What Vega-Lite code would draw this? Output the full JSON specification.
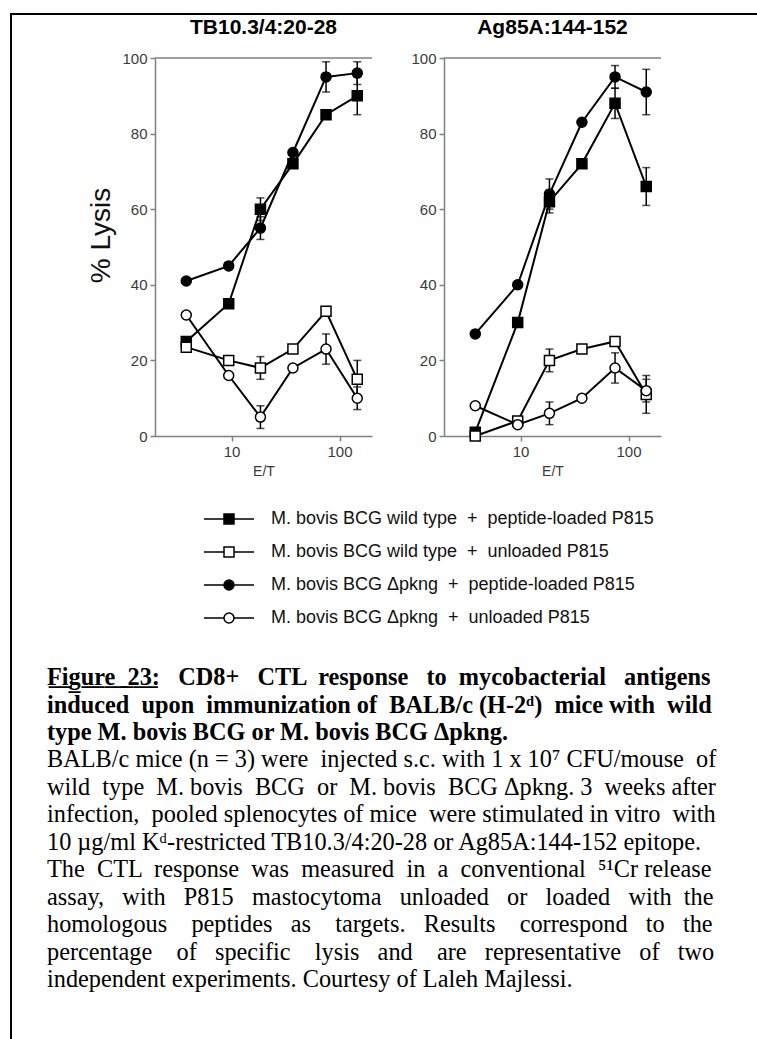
{
  "$schema": "https://vega.github.io/schema/vega-lite/v6.json",
  "width": 748,
  "height": 1027,
  "autosize": {"type": "none"},
  "padding": {"left": 11, "top": 14, "right": -2, "bottom": -2},
  "background": "white",
  "config": {
    "view": {"stroke": "black", "strokeWidth": 2},
    "font": "Liberation Sans",
    "axis": {
      "domainColor": "#808080", "domainWidth": 1.5,
      "tickColor": "#808080", "tickWidth": 1.5, "tickSize": 5,
      "labelFont": "Liberation Sans", "labelFontSize": 15, "labelColor": "#3a3a3a", "labelPadding": 3,
      "grid": false,
      "titleFont": "Liberation Sans", "titleFontWeight": "normal", "titleColor": "#3a3a3a"
    }
  },
  "title": {
    "text": [
      "F\u0332i\u0332g\u0332u\u0332r\u0332e\u0332 \u0332\u00a0\u03322\u03323\u0332: \u00a0\u00a0CD8+ \u00a0\u00a0CTL \u00a0response \u00a0\u00a0to \u00a0mycobacterial \u00a0\u00a0antigens",
      "induced \u00a0upon \u00a0immunization of \u00a0BALB/c (H-2\u1d48) \u00a0mice with \u00a0wild",
      "type M. bovis BCG or M. bovis BCG \u0394pkng."
    ],
    "subtitle": [
      "BALB/c mice (n = 3) were \u00a0injected s.c. with 1 x 10\u2077 CFU/mouse \u00a0of",
      "wild \u00a0type \u00a0M. bovis \u00a0BCG \u00a0or \u00a0M. bovis \u00a0BCG \u0394pkng. 3 \u00a0weeks after",
      "infection, \u00a0pooled splenocytes of mice \u00a0were stimulated in vitro \u00a0with",
      "10 \u00b5g/ml K\u1d48-restricted TB10.3/4:20-28 or Ag85A:144-152 epitope.",
      "The \u00a0CTL \u00a0response \u00a0was \u00a0measured \u00a0in \u00a0a \u00a0conventional \u00a0\u2075\u00b9Cr release",
      "assay, \u00a0\u00a0with \u00a0\u00a0P815 \u00a0\u00a0mastocytoma \u00a0\u00a0unloaded \u00a0\u00a0or \u00a0\u00a0loaded \u00a0\u00a0with \u00a0the",
      "homologous \u00a0\u00a0\u00a0peptides \u00a0\u00a0as \u00a0\u00a0\u00a0targets. \u00a0\u00a0Results \u00a0\u00a0\u00a0correspond \u00a0\u00a0to \u00a0\u00a0the",
      "percentage \u00a0\u00a0\u00a0of \u00a0\u00a0specific \u00a0\u00a0\u00a0lysis \u00a0\u00a0and \u00a0\u00a0\u00a0are \u00a0\u00a0representative \u00a0\u00a0of \u00a0\u00a0two",
      "independent experiments. Courtesy of Laleh Majlessi."
    ],
    "orient": "bottom", "anchor": "start", "frame": "group",
    "offset": -375, "dx": 36, "limit": 2000,
    "font": "Liberation Serif", "fontSize": 24.3, "fontWeight": "bold", "color": "black", "lineHeight": 27.5,
    "subtitleFont": "Liberation Serif", "subtitleFontSize": 24.3, "subtitleFontWeight": "normal",
    "subtitleColor": "black", "subtitleLineHeight": 27.5, "subtitlePadding": 3
  },
  "datasets": {
    "lysis": [
      {"panel": "TB10.3/4:20-28", "series": "M. bovis BCG wild type \u00a0+\u00a0 peptide-loaded P815", "et": 3.8, "lysis": 25},
      {"panel": "TB10.3/4:20-28", "series": "M. bovis BCG wild type \u00a0+\u00a0 peptide-loaded P815", "et": 9.4, "lysis": 35},
      {"panel": "TB10.3/4:20-28", "series": "M. bovis BCG wild type \u00a0+\u00a0 peptide-loaded P815", "et": 18.5, "lysis": 60, "lo": 57, "hi": 63},
      {"panel": "TB10.3/4:20-28", "series": "M. bovis BCG wild type \u00a0+\u00a0 peptide-loaded P815", "et": 37, "lysis": 72},
      {"panel": "TB10.3/4:20-28", "series": "M. bovis BCG wild type \u00a0+\u00a0 peptide-loaded P815", "et": 75, "lysis": 85},
      {"panel": "TB10.3/4:20-28", "series": "M. bovis BCG wild type \u00a0+\u00a0 peptide-loaded P815", "et": 146, "lysis": 90, "lo": 85, "hi": 95},
      {"panel": "TB10.3/4:20-28", "series": "M. bovis BCG wild type \u00a0+\u00a0 unloaded P815", "et": 3.8, "lysis": 23.5},
      {"panel": "TB10.3/4:20-28", "series": "M. bovis BCG wild type \u00a0+\u00a0 unloaded P815", "et": 9.4, "lysis": 20},
      {"panel": "TB10.3/4:20-28", "series": "M. bovis BCG wild type \u00a0+\u00a0 unloaded P815", "et": 18.5, "lysis": 18, "lo": 15, "hi": 21},
      {"panel": "TB10.3/4:20-28", "series": "M. bovis BCG wild type \u00a0+\u00a0 unloaded P815", "et": 37, "lysis": 23},
      {"panel": "TB10.3/4:20-28", "series": "M. bovis BCG wild type \u00a0+\u00a0 unloaded P815", "et": 75, "lysis": 33},
      {"panel": "TB10.3/4:20-28", "series": "M. bovis BCG wild type \u00a0+\u00a0 unloaded P815", "et": 146, "lysis": 15, "lo": 10, "hi": 20},
      {"panel": "TB10.3/4:20-28", "series": "M. bovis BCG \u0394pkng \u00a0+\u00a0 peptide-loaded P815", "et": 3.8, "lysis": 41},
      {"panel": "TB10.3/4:20-28", "series": "M. bovis BCG \u0394pkng \u00a0+\u00a0 peptide-loaded P815", "et": 9.4, "lysis": 45},
      {"panel": "TB10.3/4:20-28", "series": "M. bovis BCG \u0394pkng \u00a0+\u00a0 peptide-loaded P815", "et": 18.5, "lysis": 55, "lo": 52, "hi": 58},
      {"panel": "TB10.3/4:20-28", "series": "M. bovis BCG \u0394pkng \u00a0+\u00a0 peptide-loaded P815", "et": 37, "lysis": 75},
      {"panel": "TB10.3/4:20-28", "series": "M. bovis BCG \u0394pkng \u00a0+\u00a0 peptide-loaded P815", "et": 75, "lysis": 95, "lo": 91, "hi": 99},
      {"panel": "TB10.3/4:20-28", "series": "M. bovis BCG \u0394pkng \u00a0+\u00a0 peptide-loaded P815", "et": 146, "lysis": 96, "lo": 93, "hi": 99},
      {"panel": "TB10.3/4:20-28", "series": "M. bovis BCG \u0394pkng \u00a0+\u00a0 unloaded P815", "et": 3.8, "lysis": 32},
      {"panel": "TB10.3/4:20-28", "series": "M. bovis BCG \u0394pkng \u00a0+\u00a0 unloaded P815", "et": 9.4, "lysis": 16},
      {"panel": "TB10.3/4:20-28", "series": "M. bovis BCG \u0394pkng \u00a0+\u00a0 unloaded P815", "et": 18.5, "lysis": 5, "lo": 2, "hi": 8},
      {"panel": "TB10.3/4:20-28", "series": "M. bovis BCG \u0394pkng \u00a0+\u00a0 unloaded P815", "et": 37, "lysis": 18},
      {"panel": "TB10.3/4:20-28", "series": "M. bovis BCG \u0394pkng \u00a0+\u00a0 unloaded P815", "et": 75, "lysis": 23, "lo": 19, "hi": 27},
      {"panel": "TB10.3/4:20-28", "series": "M. bovis BCG \u0394pkng \u00a0+\u00a0 unloaded P815", "et": 146, "lysis": 10, "lo": 7, "hi": 13},
      {"panel": "Ag85A:144-152", "series": "M. bovis BCG wild type \u00a0+\u00a0 peptide-loaded P815", "et": 3.8, "lysis": 1},
      {"panel": "Ag85A:144-152", "series": "M. bovis BCG wild type \u00a0+\u00a0 peptide-loaded P815", "et": 9.4, "lysis": 30},
      {"panel": "Ag85A:144-152", "series": "M. bovis BCG wild type \u00a0+\u00a0 peptide-loaded P815", "et": 18.5, "lysis": 62, "lo": 59, "hi": 65},
      {"panel": "Ag85A:144-152", "series": "M. bovis BCG wild type \u00a0+\u00a0 peptide-loaded P815", "et": 37, "lysis": 72},
      {"panel": "Ag85A:144-152", "series": "M. bovis BCG wild type \u00a0+\u00a0 peptide-loaded P815", "et": 75, "lysis": 88, "lo": 84, "hi": 92},
      {"panel": "Ag85A:144-152", "series": "M. bovis BCG wild type \u00a0+\u00a0 peptide-loaded P815", "et": 146, "lysis": 66, "lo": 61, "hi": 71},
      {"panel": "Ag85A:144-152", "series": "M. bovis BCG wild type \u00a0+\u00a0 unloaded P815", "et": 3.8, "lysis": 0},
      {"panel": "Ag85A:144-152", "series": "M. bovis BCG wild type \u00a0+\u00a0 unloaded P815", "et": 9.4, "lysis": 4},
      {"panel": "Ag85A:144-152", "series": "M. bovis BCG wild type \u00a0+\u00a0 unloaded P815", "et": 18.5, "lysis": 20, "lo": 17, "hi": 23},
      {"panel": "Ag85A:144-152", "series": "M. bovis BCG wild type \u00a0+\u00a0 unloaded P815", "et": 37, "lysis": 23},
      {"panel": "Ag85A:144-152", "series": "M. bovis BCG wild type \u00a0+\u00a0 unloaded P815", "et": 75, "lysis": 25},
      {"panel": "Ag85A:144-152", "series": "M. bovis BCG wild type \u00a0+\u00a0 unloaded P815", "et": 146, "lysis": 11, "lo": 6, "hi": 16},
      {"panel": "Ag85A:144-152", "series": "M. bovis BCG \u0394pkng \u00a0+\u00a0 peptide-loaded P815", "et": 3.8, "lysis": 27},
      {"panel": "Ag85A:144-152", "series": "M. bovis BCG \u0394pkng \u00a0+\u00a0 peptide-loaded P815", "et": 9.4, "lysis": 40},
      {"panel": "Ag85A:144-152", "series": "M. bovis BCG \u0394pkng \u00a0+\u00a0 peptide-loaded P815", "et": 18.5, "lysis": 64, "lo": 60, "hi": 68},
      {"panel": "Ag85A:144-152", "series": "M. bovis BCG \u0394pkng \u00a0+\u00a0 peptide-loaded P815", "et": 37, "lysis": 83},
      {"panel": "Ag85A:144-152", "series": "M. bovis BCG \u0394pkng \u00a0+\u00a0 peptide-loaded P815", "et": 75, "lysis": 95, "lo": 92, "hi": 98},
      {"panel": "Ag85A:144-152", "series": "M. bovis BCG \u0394pkng \u00a0+\u00a0 peptide-loaded P815", "et": 146, "lysis": 91, "lo": 85, "hi": 97},
      {"panel": "Ag85A:144-152", "series": "M. bovis BCG \u0394pkng \u00a0+\u00a0 unloaded P815", "et": 3.8, "lysis": 8},
      {"panel": "Ag85A:144-152", "series": "M. bovis BCG \u0394pkng \u00a0+\u00a0 unloaded P815", "et": 9.4, "lysis": 3},
      {"panel": "Ag85A:144-152", "series": "M. bovis BCG \u0394pkng \u00a0+\u00a0 unloaded P815", "et": 18.5, "lysis": 6, "lo": 3, "hi": 9},
      {"panel": "Ag85A:144-152", "series": "M. bovis BCG \u0394pkng \u00a0+\u00a0 unloaded P815", "et": 37, "lysis": 10},
      {"panel": "Ag85A:144-152", "series": "M. bovis BCG \u0394pkng \u00a0+\u00a0 unloaded P815", "et": 75, "lysis": 18, "lo": 14, "hi": 22},
      {"panel": "Ag85A:144-152", "series": "M. bovis BCG \u0394pkng \u00a0+\u00a0 unloaded P815", "et": 146, "lysis": 12, "lo": 9, "hi": 15}
    ]
  },
  "data": {"name": "lysis"},
  "layer": [
    {
      "layer": [
        {
          "data": {"values": [{}]},
          "mark": {"type": "rule", "color": "#808080", "strokeWidth": 1.5},
          "encoding": {
            "x": {"datum": 1.95, "type": "quantitative", "scale": {"type": "log", "domain": [1.95, 200], "range": [144, 361], "nice": false}},
            "x2": {"datum": 200},
            "y": {"datum": 100, "type": "quantitative", "scale": {"domain": [0, 100], "range": [422, 44], "nice": false, "zero": false}}
          }
        },
        {
          "transform": [{"filter": "datum.panel === 'TB10.3/4:20-28' && isValid(datum.lo)"}],
          "mark": {"type": "errorbar", "color": "black", "thickness": 1.5, "ticks": {"size": 8}},
          "encoding": {
            "x": {"field": "et", "type": "quantitative", "title": "E/T", "scale": {"type": "log", "domain": [1.95, 200], "range": [144, 361], "nice": false}},
            "y": {"field": "lo", "type": "quantitative", "title": "% Lysis", "scale": {"domain": [0, 100], "range": [422, 44], "nice": false, "zero": false}},
            "y2": {"field": "hi"},
            "detail": {"field": "series"}
          }
        },
        {
          "transform": [{"filter": "datum.panel === 'TB10.3/4:20-28'"}],
          "mark": {"type": "line", "color": "black", "strokeWidth": 2},
          "encoding": {
            "x": {"field": "et", "type": "quantitative", "title": "E/T",
                  "scale": {"type": "log", "domain": [1.95, 200], "range": [144, 361], "nice": false},
                  "axis": {"orient": "bottom", "offset": -605, "values": [10, 100], "format": "d", "title": "E/T", "titleFontSize": 14, "titlePadding": 5, "labelFlush": false}},
            "y": {"field": "lysis", "type": "quantitative", "title": "% Lysis",
                  "scale": {"domain": [0, 100], "range": [422, 44], "nice": false, "zero": false},
                  "axis": {"orient": "left", "offset": -144, "values": [0, 20, 40, 60, 80, 100], "title": "% Lysis", "titleFontSize": 28, "titlePadding": 6, "titleColor": "#111111", "titleY": 221}},
            "detail": {"field": "series"}
          }
        },
        {
          "transform": [{"filter": "datum.panel === 'TB10.3/4:20-28'"}],
          "mark": {"type": "point", "size": 100, "stroke": "black", "strokeWidth": 1.5, "opacity": 1},
          "encoding": {
            "x": {"field": "et", "type": "quantitative", "title": "E/T", "scale": {"type": "log", "domain": [1.95, 200], "range": [144, 361], "nice": false}},
            "y": {"field": "lysis", "type": "quantitative", "title": "% Lysis", "scale": {"domain": [0, 100], "range": [422, 44], "nice": false, "zero": false}},
            "shape": {"field": "series", "type": "nominal", "legend": null,
              "scale": {"domain": ["M. bovis BCG wild type \u00a0+\u00a0 peptide-loaded P815", "M. bovis BCG wild type \u00a0+\u00a0 unloaded P815", "M. bovis BCG \u0394pkng \u00a0+\u00a0 peptide-loaded P815", "M. bovis BCG \u0394pkng \u00a0+\u00a0 unloaded P815"], "range": ["square", "square", "circle", "circle"]}},
            "fill": {"field": "series", "type": "nominal", "legend": null,
              "scale": {"domain": ["M. bovis BCG wild type \u00a0+\u00a0 peptide-loaded P815", "M. bovis BCG wild type \u00a0+\u00a0 unloaded P815", "M. bovis BCG \u0394pkng \u00a0+\u00a0 peptide-loaded P815", "M. bovis BCG \u0394pkng \u00a0+\u00a0 unloaded P815"], "range": ["black", "white", "black", "white"]}}
          }
        },
        {
          "data": {"values": [{"heading": "TB10.3/4:20-28"}]},
          "mark": {"type": "text", "font": "Liberation Sans", "fontSize": 21, "fontWeight": "bold", "baseline": "middle", "color": "black"},
          "encoding": {
            "x": {"datum": 19.75, "type": "quantitative", "scale": {"type": "log", "domain": [1.95, 200], "range": [144, 361], "nice": false}},
            "y": {"datum": 108, "type": "quantitative", "scale": {"domain": [0, 100], "range": [422, 44], "nice": false, "zero": false}},
            "text": {"field": "heading"}
          }
        }
      ]
    },
    {
      "layer": [
        {
          "data": {"values": [{}]},
          "mark": {"type": "rule", "color": "#808080", "strokeWidth": 1.5},
          "encoding": {
            "x": {"datum": 1.95, "type": "quantitative", "scale": {"type": "log", "domain": [1.95, 200], "range": [433, 650], "nice": false}},
            "x2": {"datum": 200},
            "y": {"datum": 100, "type": "quantitative", "scale": {"domain": [0, 100], "range": [422, 44], "nice": false, "zero": false}}
          }
        },
        {
          "transform": [{"filter": "datum.panel === 'Ag85A:144-152' && isValid(datum.lo)"}],
          "mark": {"type": "errorbar", "color": "black", "thickness": 1.5, "ticks": {"size": 8}},
          "encoding": {
            "x": {"field": "et", "type": "quantitative", "title": "E/T", "scale": {"type": "log", "domain": [1.95, 200], "range": [433, 650], "nice": false}},
            "y": {"field": "lo", "type": "quantitative", "title": null, "scale": {"domain": [0, 100], "range": [422, 44], "nice": false, "zero": false}},
            "y2": {"field": "hi"},
            "detail": {"field": "series"}
          }
        },
        {
          "transform": [{"filter": "datum.panel === 'Ag85A:144-152'"}],
          "mark": {"type": "line", "color": "black", "strokeWidth": 2},
          "encoding": {
            "x": {"field": "et", "type": "quantitative", "title": "E/T",
                  "scale": {"type": "log", "domain": [1.95, 200], "range": [433, 650], "nice": false},
                  "axis": {"orient": "bottom", "offset": -605, "values": [10, 100], "format": "d", "title": "E/T", "titleFontSize": 14, "titlePadding": 5, "labelFlush": false}},
            "y": {"field": "lysis", "type": "quantitative", "title": null,
                  "scale": {"domain": [0, 100], "range": [422, 44], "nice": false, "zero": false},
                  "axis": {"orient": "left", "offset": -433, "values": [0, 20, 40, 60, 80, 100], "title": null}},
            "detail": {"field": "series"}
          }
        },
        {
          "transform": [{"filter": "datum.panel === 'Ag85A:144-152'"}],
          "mark": {"type": "point", "size": 100, "stroke": "black", "strokeWidth": 1.5, "opacity": 1},
          "encoding": {
            "x": {"field": "et", "type": "quantitative", "title": "E/T", "scale": {"type": "log", "domain": [1.95, 200], "range": [433, 650], "nice": false}},
            "y": {"field": "lysis", "type": "quantitative", "title": null, "scale": {"domain": [0, 100], "range": [422, 44], "nice": false, "zero": false}},
            "shape": {"field": "series", "type": "nominal", "legend": null,
              "scale": {"domain": ["M. bovis BCG wild type \u00a0+\u00a0 peptide-loaded P815", "M. bovis BCG wild type \u00a0+\u00a0 unloaded P815", "M. bovis BCG \u0394pkng \u00a0+\u00a0 peptide-loaded P815", "M. bovis BCG \u0394pkng \u00a0+\u00a0 unloaded P815"], "range": ["square", "square", "circle", "circle"]}},
            "fill": {"field": "series", "type": "nominal", "legend": null,
              "scale": {"domain": ["M. bovis BCG wild type \u00a0+\u00a0 peptide-loaded P815", "M. bovis BCG wild type \u00a0+\u00a0 unloaded P815", "M. bovis BCG \u0394pkng \u00a0+\u00a0 peptide-loaded P815", "M. bovis BCG \u0394pkng \u00a0+\u00a0 unloaded P815"], "range": ["black", "white", "black", "white"]}}
          }
        },
        {
          "data": {"values": [{"heading": "Ag85A:144-152"}]},
          "mark": {"type": "text", "font": "Liberation Sans", "fontSize": 21, "fontWeight": "bold", "baseline": "middle", "color": "black"},
          "encoding": {
            "x": {"datum": 19.75, "type": "quantitative", "scale": {"type": "log", "domain": [1.95, 200], "range": [433, 650], "nice": false}},
            "y": {"datum": 108, "type": "quantitative", "scale": {"domain": [0, 100], "range": [422, 44], "nice": false, "zero": false}},
            "text": {"field": "heading"}
          }
        }
      ]
    },
    {
      "data": {"values": [
        {"series": "M. bovis BCG wild type \u00a0+\u00a0 peptide-loaded P815"},
        {"series": "M. bovis BCG wild type \u00a0+\u00a0 unloaded P815"},
        {"series": "M. bovis BCG \u0394pkng \u00a0+\u00a0 peptide-loaded P815"},
        {"series": "M. bovis BCG \u0394pkng \u00a0+\u00a0 unloaded P815"}
      ]},
      "transform": [{"filter": "false"}],
      "mark": {"type": "point", "size": 400, "stroke": "black", "strokeWidth": 1.5, "opacity": 1},
      "encoding": {
        "shape": {"field": "series", "type": "nominal",
          "scale": {"domain": ["M. bovis BCG wild type \u00a0+\u00a0 peptide-loaded P815", "M. bovis BCG wild type \u00a0+\u00a0 unloaded P815", "M. bovis BCG \u0394pkng \u00a0+\u00a0 peptide-loaded P815", "M. bovis BCG \u0394pkng \u00a0+\u00a0 unloaded P815"],
                    "range": ["M-2.5,0H-0.5M0.5,0H2.5M-0.5,-0.5H0.5V0.5H-0.5Z", "M-2.5,0H-0.5M0.5,0H2.5M-0.5,-0.5H0.5V0.5H-0.5Z", "M-2.5,0H-0.5M0.5,0H2.5M0.5,0A0.5,0.5,0,1,1,-0.5,0A0.5,0.5,0,1,1,0.5,0Z", "M-2.5,0H-0.5M0.5,0H2.5M0.5,0A0.5,0.5,0,1,1,-0.5,0A0.5,0.5,0,1,1,0.5,0Z"]},
          "legend": {"title": null, "orient": "none", "legendX": 207, "legendY": 494, "symbolSize": 400, "labelOffset": 31, "labelFont": "Liberation Sans", "labelFontSize": 18, "labelColor": "#111111", "labelLimit": 0, "rowPadding": 13, "padding": 0, "symbolStrokeColor": "black", "symbolStrokeWidth": 1.5, "symbolOpacity": 1,
            "encode": {"symbols": {"update": {"stroke": {"value": "black"}, "strokeWidth": {"value": 1.5}, "opacity": {"value": 1}}}}}},
        "fill": {"field": "series", "type": "nominal",
          "scale": {"domain": ["M. bovis BCG wild type \u00a0+\u00a0 peptide-loaded P815", "M. bovis BCG wild type \u00a0+\u00a0 unloaded P815", "M. bovis BCG \u0394pkng \u00a0+\u00a0 peptide-loaded P815", "M. bovis BCG \u0394pkng \u00a0+\u00a0 unloaded P815"], "range": ["black", "white", "black", "white"]},
          "legend": {"title": null, "orient": "none", "legendX": 207, "legendY": 494, "symbolSize": 400, "labelOffset": 31, "labelFont": "Liberation Sans", "labelFontSize": 18, "labelColor": "#111111", "labelLimit": 0, "rowPadding": 13, "padding": 0, "symbolStrokeColor": "black", "symbolStrokeWidth": 1.5, "symbolOpacity": 1,
            "encode": {"symbols": {"update": {"stroke": {"value": "black"}, "strokeWidth": {"value": 1.5}, "opacity": {"value": 1}}}}}}
      }
    }
  ],
  "resolve": {
    "scale": {"x": "independent", "y": "independent", "shape": "independent", "fill": "independent"},
    "axis": {"x": "independent", "y": "independent"},
    "legend": {"shape": "independent", "fill": "independent"}
  }
}
